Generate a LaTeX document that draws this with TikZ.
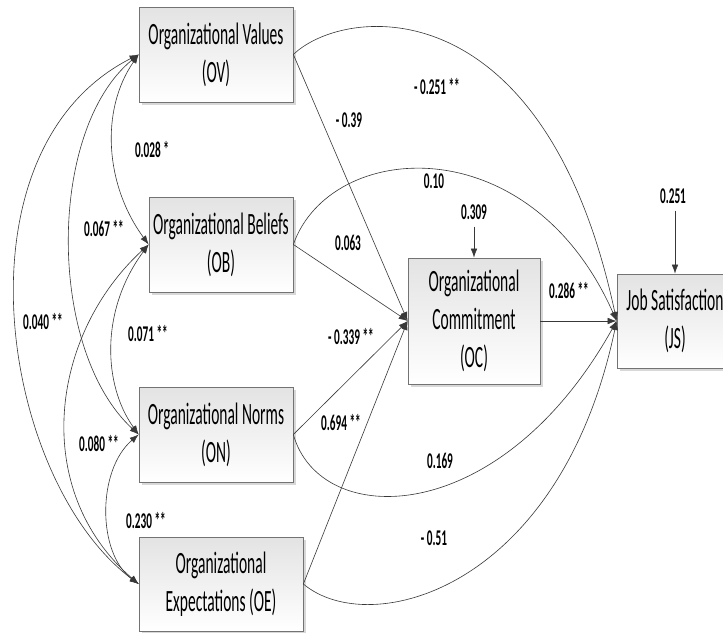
\documentclass[tikz,border=0pt]{standalone}
\usepackage{fontspec}
\setmainfont{Carlito}[FakeStretch=0.5]
\usetikzlibrary{arrows.meta,shadows}
\begin{document}
\begin{tikzpicture}[x=1pt,y=-1pt,
  box/.style={draw=black!55, line width=0.7pt, top color=black!11, bottom color=white,
    drop shadow={shadow xshift=2.5pt, shadow yshift=-2.5pt, fill=black!30, opacity=0.5},
    inner sep=0pt, align=center, font=\fontsize{31}{38}\selectfont},
  lbl/.style={font=\bfseries\fontsize{22.5}{26}\selectfont, inner sep=2pt},
  tip/.tip={Latex[length=9pt,width=6.5pt]},
  conn/.style={draw=black!78, line width=0.6pt, -tip},
  cov/.style={draw=black!78, line width=0.6pt, tip-tip},
]
\useasboundingbox (0,0) rectangle (723,632);
\clip (0,0) rectangle (723,632);
\fill[white] (0,0) rectangle (723,632);

% boxes
\node[box, minimum width=154pt, minimum height=95pt] (OV) at (216,54.5) {Organizational Values\\(OV)};
\node[box, minimum width=144pt, minimum height=95pt] (OB) at (221,244.5) {Organizational Beliefs\\(OB)};
\node[box, minimum width=154pt, minimum height=95pt] (ON) at (216,434.5) {Organizational Norms\\(ON)};
\node[box, minimum width=164pt, minimum height=94pt] (OE) at (221,584) {Organizational\\Expectations (OE)};
\node[box, minimum width=132pt, minimum height=126pt] (OC) at (474,321) {Organizational\\Commitment\\(OC)};
\node[box, minimum width=116pt, minimum height=94pt] (JS) at (675,321) {Job Satisfaction\\(JS)};

% paths to OC
\draw[conn] (OV.east) -- (OC.west);
\draw[conn] (OB.east) -- (OC.west);
\draw[conn] (ON.east) -- (OC.west);
\draw[conn] (OE.east) -- (OC.west);
\draw[conn] (OC.east) -- (JS.west);

% paths to JS
\draw[conn] (OV.east) .. controls (345,5) and (545,-15) .. (JS.west);
\draw[conn] (OB.east) .. controls (330,140) and (530,125) .. (JS.west);
\draw[conn] (ON.east) .. controls (320,530) and (500,530) .. (JS.west);
\draw[conn] (OE.east) .. controls (370,640) and (560,590) .. (JS.west);

% covariances
\draw[cov] (OV.west) .. controls (100,110) and (105,185) .. (OB.west);
\draw[cov] (OV.west) .. controls (47,130) and (47,350) .. (ON.west);
\draw[cov] (OV.west) .. controls (-50,150) and (0,480) .. (OE.west);
\draw[cov] (OB.west) .. controls (100,310) and (103,385) .. (ON.west);
\draw[cov] (OB.west) .. controls (50,335) and (30,490) .. (OE.west);
\draw[cov] (ON.west) .. controls (97,470) and (97,553) .. (OE.west);

% labels
\node[lbl] (l1) at (152,150) {0.028 *};
\node[lbl] (l2) at (104,229) {0.067 **};
\node[lbl] (l3) at (43,322) {0.040 **};
\node[lbl] (l4) at (148,334) {0.071 **};
\node[lbl] (l5) at (99,444) {0.080 **};
\node[lbl] (l6) at (146,521) {0.230 **};
\node[lbl] (l7) at (349,120) {- 0.39};
\node[lbl] (l8) at (437,87) {- 0.251 **};
\node[lbl] (l9) at (434,181) {0.10};
\node[lbl] (l10) at (348,243) {0.063};
\node[lbl] (l11) at (351,337) {- 0.339 **};
\node[lbl] (l12) at (341,423) {0.694 **};
\node[lbl] (l13) at (440,461) {0.169};
\node[lbl] (l14) at (434,538) {- 0.51};
\node[lbl] (l15) at (569,291) {0.286 **};

% error terms
\node[lbl] (e1) at (474,212) {0.309};
\node[lbl] (e2) at (673,196) {0.251};
\draw[conn, shorten <=5pt] (e1.south) -- (OC.north);
\draw[conn, shorten <=5pt] (e2.south -| JS.north) -- (JS.north);
\end{tikzpicture}
\end{document}
